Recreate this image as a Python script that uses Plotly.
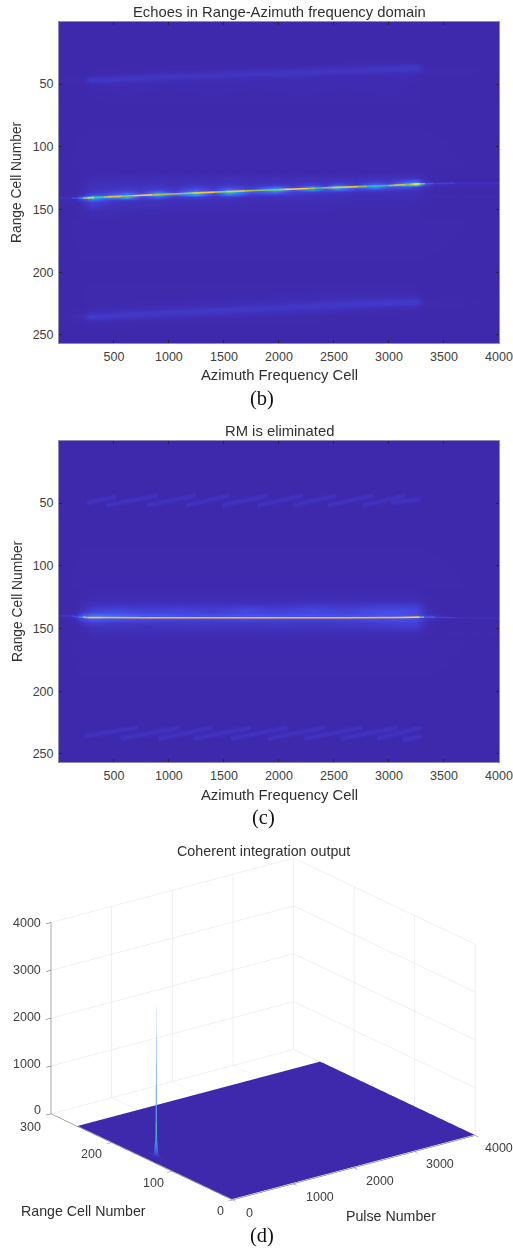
import plotly.graph_objects as go
from plotly.colors import sample_colorscale

# ---------- shared labels ----------
title_b = "Echoes in Range-Azimuth frequency domain"
title_c = "RM is eliminated"
title_d = "Coherent integration output"
xlabel_map = "Azimuth Frequency Cell"
ylabel_map = "Range Cell Number"
xticks_map = [500, 1000, 1500, 2000, 2500, 3000, 3500, 4000]
yticks_map = [50, 100, 150, 200, 250]

parula = [[0, "#3e26a8"], [0.25, "#4752f4"], [0.4, "#2d87f7"], [0.5, "#12b1d6"],
          [0.6, "#37c897"], [0.7, "#abc739"], [0.8, "#fec338"], [0.9, "#f9d830"], [1, "#f9fb15"]]

# ---------- panel backgrounds (percent of peak) ----------
base_cols = [1, 220, 3300, 4000]
base_rows = [1, 60, 120, 160, 210, 256]
base_z = [[1, 1, 1, 1], [1, 1, 1, 1], [1, 2, 2, 1], [1, 2, 2, 1], [1, 1, 1, 1], [1, 1, 1, 1]]

# ---------- panel (b) tables ----------
b_band_cols = [1, 220, 280, 600, 1000, 1400, 1800, 2200, 2600, 3000, 3250, 3320, 4000]
b_top_rows = [30, 33, 35, 37, 39, 41, 43, 45, 47, 49, 52, 56, 62]
b_top_z = [
    [1, 1, 1, 1, 1, 1, 1, 1, 1, 1, 1, 1, 1],
    [1, 1, 1, 1, 1, 1, 1, 1, 2, 2, 3, 1, 1],
    [1, 1, 1, 2, 2, 2, 2, 3, 4, 6, 9, 2, 1],
    [1, 1, 1, 2, 2, 2, 3, 5, 7, 10, 10, 3, 1],
    [1, 1, 2, 2, 3, 4, 6, 8, 9, 9, 8, 3, 1],
    [1, 1, 2, 3, 5, 7, 9, 9, 7, 5, 4, 2, 1],
    [1, 2, 3, 6, 9, 9, 8, 6, 4, 4, 3, 2, 1],
    [1, 3, 9, 9, 8, 6, 4, 4, 3, 3, 3, 1, 1],
    [1, 3, 11, 8, 4, 4, 3, 3, 3, 3, 3, 1, 1],
    [1, 2, 5, 4, 3, 3, 3, 3, 3, 3, 3, 1, 1],
    [1, 1, 3, 3, 3, 3, 3, 3, 3, 3, 2, 1, 1],
    [1, 1, 2, 3, 2, 3, 2, 3, 2, 3, 2, 1, 1],
    [1, 1, 1, 2, 2, 2, 2, 2, 2, 2, 2, 1, 1],
]
b_low_rows = [212, 216, 219, 221, 223, 225, 227, 229, 231, 233, 235, 237, 239, 243]
b_low_z = [
    [1, 1, 2, 2, 2, 2, 2, 2, 2, 2, 2, 1, 1],
    [1, 1, 2, 2, 2, 2, 2, 3, 3, 3, 3, 1, 1],
    [1, 1, 2, 2, 2, 2, 3, 3, 4, 4, 4, 2, 1],
    [1, 1, 2, 2, 2, 3, 3, 4, 5, 7, 8, 2, 1],
    [1, 1, 2, 2, 3, 3, 4, 5, 8, 11, 12, 3, 1],
    [1, 1, 2, 3, 3, 4, 5, 8, 11, 11, 10, 3, 1],
    [1, 1, 3, 3, 4, 5, 8, 11, 10, 7, 5, 2, 1],
    [1, 2, 3, 4, 5, 10, 11, 8, 6, 4, 4, 1, 1],
    [1, 2, 4, 6, 10, 11, 8, 6, 4, 3, 3, 1, 1],
    [1, 3, 7, 11, 10, 7, 5, 4, 3, 3, 2, 1, 1],
    [1, 5, 12, 11, 6, 5, 4, 3, 2, 2, 2, 1, 1],
    [1, 4, 10, 6, 4, 3, 2, 2, 2, 2, 2, 1, 1],
    [1, 2, 4, 3, 2, 2, 2, 2, 1, 1, 1, 1, 1],
    [1, 1, 2, 1, 1, 1, 1, 1, 1, 1, 1, 1, 1],
]
b_mid_cols = [1, 150, 220, 300, 400, 500, 620, 750, 900, 1050, 1250, 1400, 1550, 1750, 1960, 2130,
              2300, 2420, 2530, 2700, 2870, 3000, 3145, 3250, 3320, 3420, 3700, 4000]
b_mid_rows = [120, 125, 128, 130, 132, 134, 136, 138, 140, 142, 144, 147, 151, 156]
b_mid_z = [
    [1, 1, 2, 2, 2, 2, 2, 2, 2, 2, 2, 2, 2, 2, 2, 2, 2, 2, 2, 2, 2, 2, 2, 2, 2, 1, 1, 1],
    [1, 1, 2, 4, 4, 4, 5, 4, 5, 4, 5, 4, 5, 4, 5, 4, 5, 4, 5, 5, 6, 6, 7, 8, 4, 1, 1, 1],
    [1, 1, 3, 5, 5, 5, 6, 5, 6, 5, 6, 5, 7, 5, 6, 6, 8, 6, 9, 7, 14, 10, 26, 34, 9, 2, 1, 1],
    [1, 1, 3, 6, 6, 6, 7, 6, 8, 6, 9, 7, 10, 7, 12, 9, 16, 10, 24, 12, 34, 22, 56, 70, 18, 6, 3, 2],
    [1, 1, 4, 7, 7, 8, 9, 8, 10, 8, 14, 9, 18, 10, 28, 15, 38, 22, 58, 25, 46, 22, 24, 14, 7, 3, 1, 1],
    [1, 1, 4, 8, 9, 10, 12, 10, 16, 10, 26, 14, 34, 18, 58, 24, 46, 22, 34, 14, 16, 10, 8, 7, 4, 2, 1, 1],
    [1, 1, 5, 10, 12, 16, 22, 14, 34, 16, 46, 22, 60, 24, 34, 14, 14, 10, 9, 7, 7, 6, 6, 5, 3, 1, 1, 1],
    [1, 2, 7, 20, 22, 30, 42, 22, 60, 28, 50, 16, 34, 12, 12, 8, 7, 6, 6, 5, 5, 5, 5, 4, 3, 1, 1, 1],
    [2, 4, 26, 65, 44, 46, 58, 16, 28, 10, 14, 8, 10, 6, 6, 5, 5, 5, 5, 4, 4, 4, 4, 4, 2, 1, 1, 1],
    [2, 3, 16, 34, 22, 14, 14, 8, 8, 6, 7, 6, 6, 5, 5, 5, 5, 4, 4, 4, 4, 4, 4, 3, 2, 1, 1, 1],
    [1, 2, 8, 16, 12, 8, 7, 6, 6, 5, 5, 5, 5, 4, 4, 4, 4, 4, 4, 3, 3, 3, 3, 3, 2, 1, 1, 1],
    [1, 1, 4, 12, 8, 6, 5, 5, 5, 4, 4, 4, 4, 3, 3, 3, 3, 3, 3, 3, 3, 3, 3, 2, 2, 1, 1, 1],
    [1, 1, 3, 5, 4, 4, 4, 3, 3, 3, 3, 3, 3, 3, 3, 3, 3, 3, 2, 2, 2, 2, 2, 2, 1, 1, 1, 1],
    [1, 1, 2, 3, 3, 3, 2, 2, 2, 2, 2, 2, 2, 2, 2, 2, 2, 2, 2, 2, 2, 2, 2, 2, 1, 1, 1, 1],
]
b_ridge_cell = [1, 120, 180, 220, 258, 288, 320, 409, 440, 576, 620, 667, 848, 909, 1091, 1130, 1212,
                1424, 1470, 1515, 1697, 1780, 1964, 2000, 2055, 2267, 2330, 2388, 2479, 2721, 2800,
                2842, 2994, 3040, 3150, 3190, 3221, 3282, 3330, 3400, 3600, 4000]
b_ridge_row = [141, 141, 141, 141, 140.9, 140.7, 140.6, 140.2, 140, 139.5, 139.3, 139.1, 138.4, 138.1,
               137.5, 137.3, 137, 136.2, 136, 135.8, 135.2, 134.9, 134.3, 134.2, 134, 133.3, 133.1,
               132.9, 132.6, 131.8, 131.6, 131.4, 131, 130.8, 130.2, 130, 129.8, 129.6, 129.5, 129.3,
               129, 129]
b_ridge_amp = [6, 9, 28, 50, 88, 98, 62, 60, 76, 76, 60, 80, 84, 60, 80, 60, 80, 78, 60, 76, 78, 62, 72,
               60, 86, 82, 60, 58, 76, 78, 56, 52, 60, 76, 72, 58, 92, 94, 36, 18, 8, 5]
b_faint_cell = [3300, 3650, 4000]
b_faint_row = [140, 140, 140]
b_faint_amp = [4, 5, 4]

# ---------- panel (c) tables ----------
c_mid_cols = [1, 150, 220, 300, 500, 800, 1100, 1400, 1700, 2000, 2300, 2600, 2900, 3100, 3250, 3350, 3500, 4000]
c_mid_rows = [122, 128, 132, 135, 137, 139, 143, 145, 148, 151, 154, 158]
c_mid_z = [
    [1, 1, 2, 3, 3, 3, 3, 3, 3, 3, 3, 3, 3, 3, 3, 1, 1, 1],
    [1, 1, 3, 4, 4, 4, 4, 4, 4, 4, 5, 5, 5, 5, 5, 2, 1, 1],
    [1, 1, 4, 8, 10, 9, 10, 9, 11, 9, 12, 10, 13, 13, 13, 3, 1, 1],
    [1, 2, 7, 14, 17, 14, 16, 13, 18, 14, 18, 15, 20, 20, 18, 4, 1, 1],
    [1, 3, 12, 20, 22, 17, 18, 15, 20, 16, 20, 16, 22, 22, 18, 5, 1, 1],
    [2, 6, 26, 36, 32, 26, 24, 22, 24, 22, 24, 22, 24, 24, 22, 8, 2, 1],
    [1, 4, 18, 26, 22, 20, 18, 18, 20, 18, 18, 18, 20, 22, 20, 6, 2, 1],
    [1, 2, 8, 14, 10, 10, 10, 10, 10, 10, 10, 10, 13, 15, 15, 3, 1, 1],
    [1, 1, 4, 9, 8, 7, 9, 9, 8, 10, 8, 10, 11, 13, 13, 2, 1, 1],
    [1, 1, 3, 6, 6, 6, 6, 6, 6, 6, 6, 6, 7, 8, 8, 2, 1, 1],
    [1, 1, 2, 4, 4, 4, 4, 4, 4, 4, 4, 4, 4, 4, 4, 2, 1, 1],
    [1, 1, 2, 3, 3, 3, 3, 3, 3, 3, 3, 3, 3, 3, 3, 1, 1, 1],
]
c_ridge_cell = [1, 120, 180, 220, 260, 400, 800, 1400, 2000, 2600, 3100, 3280, 3320, 3420, 3600, 4000]
c_ridge_row = [140, 140, 141, 141, 141.3, 141.3, 141.4, 141.4, 141.4, 141.4, 141.3, 141, 141, 141, 141.5, 142]
c_ridge_amp = [8, 11, 30, 52, 90, 78, 80, 82, 80, 80, 82, 88, 38, 16, 8, 5]
c_faint_cell = [3500, 3750, 4000]
c_faint_row = [153, 153.5, 154]
c_faint_amp = [3, 4, 4]
c_top_x0 = [250, 430, 800, 1150, 1480, 1800, 2130, 2440, 2760, 3020]
c_top_x1 = [520, 900, 1250, 1550, 1900, 2220, 2520, 2860, 3150, 3290]
c_top_r0 = [50, 52, 52, 52, 52, 52, 52, 52, 52, 50]
c_top_r1 = [45, 44, 44, 44, 44, 44, 44, 44, 44, 47]
c_low_x0 = [230, 560, 900, 1230, 1560, 1900, 2230, 2560, 2890, 3120]
c_low_x1 = [720, 1100, 1400, 1750, 2080, 2420, 2760, 3080, 3290, 3300]
c_low_r0 = [236, 238, 238, 238, 238, 238, 238, 238, 238, 239]
c_low_r1 = [229, 229, 229, 229, 229, 229, 229, 229, 229, 236]

# ---------- panel (d) tables ----------
d_pulse = [1, 130, 142, 150, 158, 170, 300, 2000, 4000]
d_range = [1, 120, 137, 140, 141, 142, 145, 160, 256]
d_power = [
    [10, 10, 10, 10, 10, 10, 10, 10, 10],
    [10, 10, 10, 12, 10, 10, 10, 10, 10],
    [10, 10, 20, 40, 20, 10, 10, 10, 10],
    [10, 15, 60, 420, 60, 15, 10, 10, 10],
    [10, 30, 520, 3400, 520, 30, 10, 10, 10],
    [10, 15, 60, 460, 60, 15, 10, 10, 10],
    [10, 10, 25, 50, 25, 10, 10, 10, 10],
    [10, 10, 10, 12, 10, 10, 10, 10, 10],
    [10, 10, 10, 10, 10, 10, 10, 10, 10],
]
d_scale = [[0, "#3e26a8"], [0.015, "#3f46d0"], [0.06, "#3a78e8"], [0.14, "#3fb6c8"], [0.3, "#5f9cf0"], [1, "#6fa8f8"]]
d_xticks = [0, 1000, 2000, 3000, 4000]
d_yticks = [0, 100, 200, 300]
d_zticks = [0, 1000, 2000, 3000, 4000]
# where the reference prints those tick labels, in page pixels
d_xtick_px = [(249, 1213), (320, 1197), (380, 1181), (440, 1164), (499, 1148)]
d_ytick_px = [(220, 1211), (153, 1183), (91, 1154), (30, 1127)]
d_ztick_px = [(37, 1110), (27, 1064), (27, 1017), (27, 970), (27, 923)]

# ---------- page geometry ----------
W, H = 513, 1249
TEXT = "#404040"
FONT = "Liberation Sans"
SERIF = "Liberation Serif"


def py(p):
    return 1 - p / H


fig = go.Figure()


def heat(cols, rows, z, xa, ya):
    fig.add_trace(go.Heatmap(x=cols, y=rows, z=z, coloraxis="coloraxis", zsmooth="best",
                             xaxis=xa, yaxis=ya, hoverinfo="skip"))


def ridge(cells, rows, amps, xa, ya, width):
    for i in range(len(cells) - 1):
        colour = sample_colorscale(parula, (amps[i] + amps[i + 1]) / 200)[0]
        fig.add_trace(go.Scatter(x=cells[i:i + 2], y=rows[i:i + 2], mode="lines",
                                 line=dict(color=colour, width=width), xaxis=xa, yaxis=ya,
                                 showlegend=False, hoverinfo="skip"))


def streaks(x0, x1, r0, r1, xa, ya):
    for i in range(len(x0)):
        for w, a in ((10, 0.05), (7, 0.08), (5, 0.09), (3, 0.1), (1.5, 0.08)):
            fig.add_trace(go.Scatter(x=[x0[i], x1[i]], y=[r0[i], r1[i]], mode="lines",
                                     line=dict(color=f"rgba(75,75,235,{a})", width=w), xaxis=xa, yaxis=ya,
                                     showlegend=False, hoverinfo="skip"))


# (b)
heat(base_cols, base_rows, base_z, "x", "y")
heat(b_band_cols, b_top_rows, b_top_z, "x", "y")
heat(b_band_cols, b_low_rows, b_low_z, "x", "y")
heat(b_mid_cols, b_mid_rows, b_mid_z, "x", "y")
ridge(b_faint_cell, b_faint_row, b_faint_amp, "x", "y", 1)
ridge(b_ridge_cell, b_ridge_row, b_ridge_amp, "x", "y", 1.6)

# (c)
heat(base_cols, base_rows, base_z, "x2", "y2")
heat(c_mid_cols, c_mid_rows, c_mid_z, "x2", "y2")
streaks(c_top_x0, c_top_x1, c_top_r0, c_top_r1, "x2", "y2")
streaks(c_low_x0, c_low_x1, c_low_r0, c_low_r1, "x2", "y2")
ridge(c_faint_cell, c_faint_row, c_faint_amp, "x2", "y2", 1)
ridge(c_ridge_cell, c_ridge_row, c_ridge_amp, "x2", "y2", 1.6)

# (d)
fig.add_trace(go.Surface(x=d_pulse, y=d_range, z=d_power, colorscale=d_scale, cmin=0, cmax=3400,
                         showscale=False, hoverinfo="skip",
                         lighting=dict(ambient=1, diffuse=0, specular=0, fresnel=0)))

xdom = [59 / W, 499 / W]


def map_x(anchor):
    return dict(domain=xdom, range=[1, 4000], tickmode="array", tickvals=xticks_map, ticks="inside", ticklen=3,
                automargin=False, ticklabelstandoff=2, tickcolor="#262626",
                tickfont=dict(family=FONT, size=12.5, color=TEXT),
                showgrid=False, zeroline=False, showline=True, linecolor="#8c8cb4", linewidth=1, mirror="ticks",
                anchor=anchor)


def map_y(anchor, top, bottom):
    return dict(domain=[py(bottom), py(top)], range=[256.5, 0.5], tickmode="array", tickvals=yticks_map,
                ticks="inside", ticklen=3, automargin=False, ticklabelstandoff=2, tickcolor="#262626",
                tickfont=dict(family=FONT, size=12.5, color=TEXT), showgrid=False, zeroline=False, showline=True,
                linecolor="#8c8cb4", linewidth=1, mirror="ticks", anchor=anchor)


def scene_axis(ticks, rng):
    return dict(range=rng, tickmode="array", tickvals=ticks, title=dict(text=""), showbackground=False,
                showgrid=True, gridcolor="#e4e4e4", gridwidth=1, zeroline=False, showspikes=False,
                showline=True, linecolor="#505050", linewidth=1, ticks="outside", ticklen=6, tickcolor="#505050",
                showticklabels=False)


R = 1.25
cx, cy = -0.026, 0.02
fig.update_layout(
    width=W, height=H, autosize=False, margin=dict(l=0, r=0, t=0, b=0), paper_bgcolor="white", plot_bgcolor="white",
    showlegend=False, coloraxis=dict(colorscale=parula, cmin=0, cmax=100, showscale=False),
    xaxis=map_x("y"), yaxis=map_y("x", 22, 343), xaxis2=map_x("y2"), yaxis2=map_y("x2", 441, 762),
    scene=dict(domain=dict(x=[0, 1], y=[py(1229), py(829)]),
               xaxis=scene_axis(d_xticks, [0, 4000]), yaxis=scene_axis(d_yticks, [0, 300]),
               zaxis=scene_axis(d_zticks, [0, 4000]),
               aspectmode="manual", aspectratio=dict(x=1.515, y=1.515, z=1.023),
               camera=dict(projection=dict(type="orthographic"), up=dict(x=0, y=0, z=1),
                           center=dict(x=cx, y=cy, z=0),
                           eye=dict(x=cx - 0.56 * R, y=cy - 0.749 * R, z=0.355 * R))),
)


def label(text, x, y, size=14.8, angle=0, family=FONT, color="#303030"):
    fig.add_annotation(text=text, x=x / W, y=py(y), xref="paper", yref="paper", xanchor="center", yanchor="middle",
                       showarrow=False, textangle=angle, font=dict(family=family, size=size, color=color))


label(title_b, 279, 12)
label(xlabel_map, 279, 375)
label(ylabel_map, 17, 182, size=13.8, angle=-90)
label("(b)", 262, 398, size=20.5, family=SERIF, color="#111111")
label(title_c, 279, 431)
label(xlabel_map, 279, 795)
label(ylabel_map, 17, 601, size=13.8, angle=-90)
label("(c)", 263, 817, size=20.5, family=SERIF, color="#111111")
label(title_d, 263, 851, size=14.3)
label("Range Cell Number", 83, 1211, size=14.2)
label("Pulse Number", 391, 1216, size=14.2)
label("(d)", 262, 1235, size=20.5, family=SERIF, color="#111111")
for ticks, spots in ((d_xticks, d_xtick_px), (d_yticks, d_ytick_px), (d_zticks, d_ztick_px)):
    for value, (px, ppy) in zip(ticks, spots):
        label(str(value), px, ppy, size=12.5, color=TEXT)

page_fix = "document.body.style.margin='0';document.documentElement.style.overflow='hidden';"
fig.write_html("out.html", config={"responsive": False, "displayModeBar": False}, post_script=page_fix)
